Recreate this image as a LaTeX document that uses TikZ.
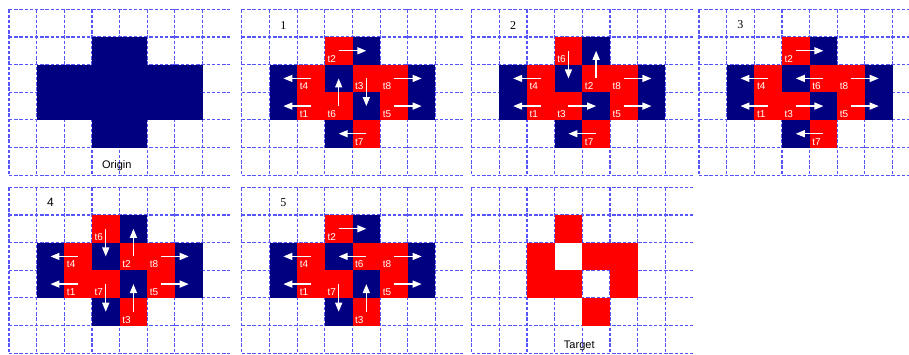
\documentclass[tikz,border=0pt]{standalone}
\usepackage{fontspec}
\setmainfont{Liberation Serif}
\setsansfont{Liberation Sans}
\usetikzlibrary{arrows.meta}
\definecolor{navy}{RGB}{0,0,128}
\definecolor{gridblue}{RGB}{85,85,250}
\tikzset{
  gridline/.style={gridblue, line width=1.1pt, dash pattern=on 3.4pt off 1.8pt},
  bcell/.style={fill=navy},
  rcell/.style={fill=red},
  mv/.style={white, line width=1.4pt, -{Triangle[length=9pt,width=7pt]}},
  tlab/.style={white, font=\sffamily\fontsize{10}{10}\selectfont, anchor=base west, inner sep=0pt},
  num/.style={black, font=\fontsize{12}{12}\selectfont, inner sep=0pt},
  numsf/.style={black, font=\sffamily\fontsize{12}{12}\selectfont, inner sep=0pt},
  captext/.style={black, font=\sffamily\fontsize{11}{11}\selectfont, inner sep=0pt},
  panelbox/.style={x=27.65pt, y=-27.65pt}
}
% grid of one panel, with named cell centres
\newcommand\panelgrid[1]{%
  \foreach \i in {0,...,7} \draw[gridline] (\i,0) -- (\i,6);
  \foreach \j in {0,...,6} \draw[gridline] (0,\j) -- (8,\j);
  \foreach \r in {0,...,5} \foreach \c in {0,...,7}
    \coordinate (#1-\r-\c) at (\c+0.5,\r+0.5);
}
\newcommand\cellfill[3]{\fill[#1] (#3,#2) rectangle ++(1,1);}
\newcommand\stdpattern{%
  \cellfill{rcell}{1}{3}\cellfill{bcell}{1}{4}
  \cellfill{bcell}{2}{1}\cellfill{rcell}{2}{2}\cellfill{bcell}{2}{3}
  \cellfill{rcell}{2}{4}\cellfill{rcell}{2}{5}\cellfill{bcell}{2}{6}
  \cellfill{bcell}{3}{1}\cellfill{rcell}{3}{2}\cellfill{rcell}{3}{3}
  \cellfill{bcell}{3}{4}\cellfill{rcell}{3}{5}\cellfill{bcell}{3}{6}
  \cellfill{bcell}{4}{3}\cellfill{rcell}{4}{4}
}
% \move{panel}{label}{r}{c}{r2}{c2}
\newcommand\move[6]{%
  \node[tlab] (#1#2) at (#4+0.09,#3+0.91) {#2};
  \draw[mv] (#1-#3-#4) -- (#1-#5-#6);
}
\begin{document}
\begin{tikzpicture}[x=1pt,y=-1pt]
\useasboundingbox (0,0) rectangle (909,354);
\clip (0,0) rectangle (909,354);
\fill[white] (0,0) rectangle (909,354);

% Origin
\begin{scope}[shift={(9,9.3)}, panelbox]
  \panelgrid{P0}
  \fill[navy] (3,1) rectangle (5,2);
  \fill[navy] (1,2) rectangle (7,4);
  \fill[navy] (3,4) rectangle (5,5);
  \node[captext] (origin) at (3.9,5.66) {Origin};
\end{scope}

% 1
\begin{scope}[shift={(241.9,9.3)}, panelbox]
  \panelgrid{P1}
  \stdpattern
  \node[num] (n1) at (1.5,0.57) {1};
  \move{P1}{t2}{1}{3}{1}{4}
  \move{P1}{t4}{2}{2}{2}{1}
  \move{P1}{t3}{2}{4}{3}{4}
  \move{P1}{t8}{2}{5}{2}{6}
  \move{P1}{t1}{3}{2}{3}{1}
  \move{P1}{t6}{3}{3}{2}{3}
  \move{P1}{t5}{3}{5}{3}{6}
  \move{P1}{t7}{4}{4}{4}{3}
\end{scope}

% 2
\begin{scope}[shift={(471.7,9.3)}, panelbox]
  \panelgrid{P2}
  \stdpattern
  \node[num] (n2) at (1.5,0.57) {2};
  \move{P2}{t6}{1}{3}{2}{3}
  \move{P2}{t4}{2}{2}{2}{1}
  \move{P2}{t2}{2}{4}{1}{4}
  \move{P2}{t8}{2}{5}{2}{6}
  \move{P2}{t1}{3}{2}{3}{1}
  \move{P2}{t3}{3}{3}{3}{4}
  \move{P2}{t5}{3}{5}{3}{6}
  \move{P2}{t7}{4}{4}{4}{3}
\end{scope}

% 3
\begin{scope}[shift={(699,9.3)}, panelbox]
  \panelgrid{P3}
  \stdpattern
  \node[num] (n3) at (1.5,0.57) {3};
  \move{P3}{t2}{1}{3}{1}{4}
  \move{P3}{t4}{2}{2}{2}{1}
  \move{P3}{t6}{2}{4}{2}{3}
  \move{P3}{t8}{2}{5}{2}{6}
  \move{P3}{t1}{3}{2}{3}{1}
  \move{P3}{t3}{3}{3}{3}{4}
  \move{P3}{t5}{3}{5}{3}{6}
  \move{P3}{t7}{4}{4}{4}{3}
\end{scope}

% 4
\begin{scope}[shift={(9,187.3)}, panelbox]
  \panelgrid{P4}
  \stdpattern
  \node[numsf] (n4) at (1.5,0.55) {4};
  \move{P4}{t6}{1}{3}{2}{3}
  \move{P4}{t4}{2}{2}{2}{1}
  \move{P4}{t2}{2}{4}{1}{4}
  \move{P4}{t8}{2}{5}{2}{6}
  \move{P4}{t1}{3}{2}{3}{1}
  \move{P4}{t7}{3}{3}{4}{3}
  \move{P4}{t5}{3}{5}{3}{6}
  \move{P4}{t3}{4}{4}{3}{4}
\end{scope}

% 5
\begin{scope}[shift={(241.9,187.3)}, panelbox]
  \panelgrid{P5}
  \stdpattern
  \node[num] (n5) at (1.5,0.57) {5};
  \move{P5}{t2}{1}{3}{1}{4}
  \move{P5}{t4}{2}{2}{2}{1}
  \move{P5}{t6}{2}{4}{2}{3}
  \move{P5}{t8}{2}{5}{2}{6}
  \move{P5}{t1}{3}{2}{3}{1}
  \move{P5}{t7}{3}{3}{4}{3}
  \move{P5}{t5}{3}{5}{3}{6}
  \move{P5}{t3}{4}{4}{3}{4}
\end{scope}

% Target
\begin{scope}[shift={(471.7,187.3)}, panelbox]
  \panelgrid{P6}
  \cellfill{rcell}{1}{3}
  \cellfill{rcell}{2}{2}\cellfill{rcell}{2}{4}\cellfill{rcell}{2}{5}
  \cellfill{rcell}{3}{2}\cellfill{rcell}{3}{3}\cellfill{rcell}{3}{5}
  \cellfill{rcell}{4}{4}
  \node[captext] (target) at (3.89,5.73) {Target};
\end{scope}
\end{tikzpicture}
\end{document}
